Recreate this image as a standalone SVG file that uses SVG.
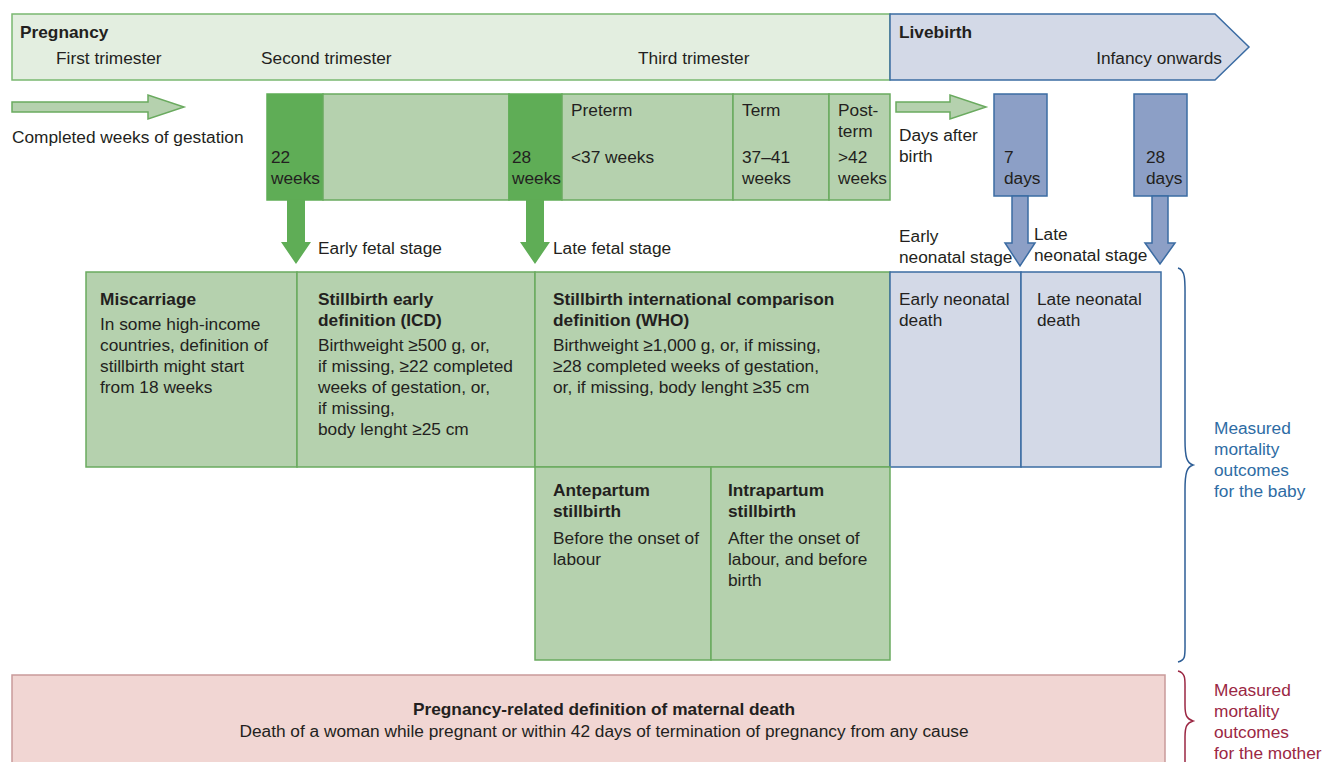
<svg xmlns="http://www.w3.org/2000/svg" width="1323" height="762" viewBox="0 0 1323 762">
<style>
text{font-family:"Liberation Sans",Arial,sans-serif;font-size:17.3px;fill:#231f20}
.b{font-weight:bold}
.g{fill:#b5d1ae;stroke:#6aaa5f;stroke-width:1.5}
.dg{fill:#5fad56;stroke:#5fad56;stroke-width:1.5}
.lb{fill:#d3d9e7;stroke:#3b6ca3;stroke-width:1.5}
.db{fill:#8c9fc6;stroke:#3b6ca3;stroke-width:1.5}
.bl{fill:#2e6ca4}
.rd{fill:#9b2743}
</style>
<rect width="1323" height="762" fill="#ffffff"/>
<g id="pregnancy">
<rect x="12" y="14" width="878" height="66" fill="#e3eee0" stroke="#7ab870" stroke-width="1.5"/>
<text x="20" y="38" class="b">Pregnancy</text>
<text x="56" y="64">First trimester</text>
<text x="261" y="64">Second trimester</text>
<text x="638" y="64">Third trimester</text>
</g>
<g id="livebirth">
<polygon points="890,14 1215,14 1249,47 1215,80 890,80" fill="#d3d9e7" stroke="#3b6ca3" stroke-width="1.5"/>
<text x="899" y="38" class="b">Livebirth</text>
<text x="1222" y="64" text-anchor="end">Infancy onwards</text>
</g>
<g id="gestation-arrow">
<polygon class="g" points="12,102 148,102 148,95 184,107 148,119 148,112 12,112"/>
<text x="12" y="143">Completed weeks of gestation</text>
</g>
<g id="w22">
<rect class="dg" x="267" y="94" width="56" height="106"/>
<text x="271" y="163">22</text>
<text x="271" y="184">weeks</text>
</g>
<g id="w22-28">
<rect class="g" x="323" y="94" width="186" height="106" stroke="#b5d1ae"/>
</g>
<g id="w28">
<rect class="dg" x="509" y="94" width="53" height="106"/>
<text x="512" y="163">28</text>
<text x="512" y="184">weeks</text>
</g>
<g id="preterm">
<rect class="g" x="562" y="94" width="171" height="106"/>
<text x="571" y="116">Preterm</text>
<text x="571" y="163">&lt;37 weeks</text>
</g>
<g id="term">
<rect class="g" x="733" y="94" width="96" height="106"/>
<text x="742" y="116">Term</text>
<text x="742" y="163">37–41</text>
<text x="742" y="184">weeks</text>
</g>
<g id="postterm">
<rect class="g" x="829" y="94" width="61" height="106"/>
<text x="838" y="116">Post-</text>
<text x="838" y="137">term</text>
<text x="838" y="163">&gt;42</text>
<text x="838" y="184">weeks</text>
</g>
<g id="days-arrow">
<polygon class="g" points="896,102 950,102 950,95 986,107 950,119 950,112 896,112"/>
<text x="899" y="141">Days after</text>
<text x="899" y="162">birth</text>
</g>
<g id="d7">
<rect class="db" x="994" y="94" width="53" height="102"/>
<text x="1004" y="163">7</text>
<text x="1004" y="184">days</text>
</g>
<g id="d28">
<rect class="db" x="1134" y="94" width="53" height="102"/>
<text x="1146" y="163">28</text>
<text x="1146" y="184">days</text>
</g>
<g id="connectors">
<polygon points="287,200 305,200 305,242 311,242 296,264 281,242 287,242" fill="#5fad56"/>
<polygon points="526,200 544,200 544,242 550,242 535,264 520,242 526,242" fill="#5fad56"/>
<polygon class="db" points="1012,196 1028,196 1028,243 1035,243 1020,266 1005,243 1012,243"/>
<polygon class="db" points="1152,196 1168,196 1168,243 1175,243 1160,264 1145,243 1152,243"/>
</g>
<g id="stage-labels">
<text x="318" y="254">Early fetal stage</text>
<text x="553" y="254">Late fetal stage</text>
<text x="899" y="242">Early</text>
<text x="899" y="263">neonatal stage</text>
<text x="1034" y="240">Late</text>
<text x="1034" y="261">neonatal stage</text>
</g>
<g id="miscarriage">
<rect class="g" x="86" y="272" width="211" height="195"/>
<text x="100" y="305" class="b">Miscarriage</text>
<text x="100" y="330">In some high-income</text>
<text x="100" y="351">countries, definition of</text>
<text x="100" y="372">stillbirth might start</text>
<text x="100" y="393">from 18 weeks</text>
</g>
<g id="stillbirth-icd">
<rect class="g" x="297" y="272" width="238" height="195"/>
<text x="318" y="305" class="b">Stillbirth early</text>
<text x="318" y="326" class="b">definition (ICD)</text>
<text x="318" y="351">Birthweight ≥500 g, or,</text>
<text x="318" y="372">if missing, ≥22 completed</text>
<text x="318" y="393">weeks of gestation, or,</text>
<text x="318" y="414">if missing,</text>
<text x="318" y="435">body lenght ≥25 cm</text>
</g>
<g id="stillbirth-who">
<rect class="g" x="535" y="272" width="355" height="195"/>
<text x="553" y="305" class="b">Stillbirth international comparison</text>
<text x="553" y="326" class="b">definition (WHO)</text>
<text x="553" y="351">Birthweight ≥1,000 g, or, if missing,</text>
<text x="553" y="372">≥28 completed weeks of gestation,</text>
<text x="553" y="393">or, if missing, body lenght ≥35 cm</text>
</g>
<g id="early-neonatal">
<rect class="lb" x="890" y="272" width="131" height="195"/>
<text x="899" y="305">Early neonatal</text>
<text x="899" y="326">death</text>
</g>
<g id="late-neonatal">
<rect class="lb" x="1021" y="272" width="140" height="195"/>
<text x="1037" y="305">Late neonatal</text>
<text x="1037" y="326">death</text>
</g>
<g id="antepartum">
<rect class="g" x="535" y="467" width="176" height="193"/>
<text x="553" y="496" class="b">Antepartum</text>
<text x="553" y="517" class="b">stillbirth</text>
<text x="553" y="544">Before the onset of</text>
<text x="553" y="565">labour</text>
</g>
<g id="intrapartum">
<rect class="g" x="711" y="467" width="179" height="193"/>
<text x="728" y="496" class="b">Intrapartum</text>
<text x="728" y="517" class="b">stillbirth</text>
<text x="728" y="544">After the onset of</text>
<text x="728" y="565">labour, and before</text>
<text x="728" y="586">birth</text>
</g>
<g id="maternal">
<rect x="12" y="675" width="1153" height="100" fill="#f1d6d3" stroke="#c99a9a" stroke-width="1.5"/>
<text x="604" y="715" class="b" text-anchor="middle">Pregnancy-related definition of maternal death</text>
<text x="604" y="737" text-anchor="middle">Death of a woman while pregnant or within 42 days of termination of pregnancy from any cause</text>
</g>
<g id="baby-brace">
<path d="M1178,268 C1186,270 1185,282 1185,300 L1185,440 C1185,458 1187,463 1193,465 C1187,467 1185,472 1185,490 L1185,640 C1185,656 1186,660 1178,662" fill="none" stroke="#2e5e96" stroke-width="1.5"/>
<text x="1214" y="434" class="bl">Measured</text>
<text x="1214" y="455" class="bl">mortality</text>
<text x="1214" y="476" class="bl">outcomes</text>
<text x="1214" y="497" class="bl">for the baby</text>
</g>
<g id="mother-brace">
<path d="M1178,671 C1186,673 1185,680 1185,690 L1185,705 C1185,716 1187,719 1193,721 C1187,723 1185,726 1185,737 L1185,762" fill="none" stroke="#9b2743" stroke-width="1.5"/>
<text x="1214" y="696" class="rd">Measured</text>
<text x="1214" y="717" class="rd">mortality</text>
<text x="1214" y="738" class="rd">outcomes</text>
<text x="1214" y="759" class="rd">for the mother</text>
</g>
</svg>
